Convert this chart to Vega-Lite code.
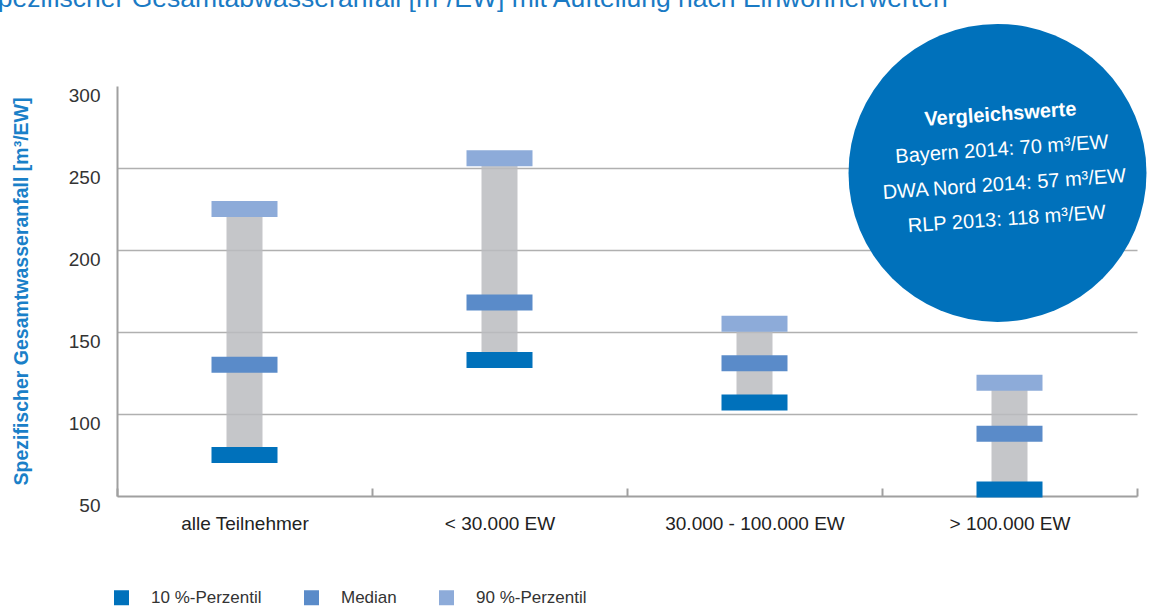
{
  "$schema": "https://vega.github.io/schema/vega-lite/v6.json",
  "width": 1020,
  "height": 410,
  "autosize": {"type": "none"},
  "padding": {"left": 117, "top": 86, "right": 12, "bottom": 111},
  "background": "white",
  "config": {"view": {"stroke": null}, "font": "Liberation Sans"},
  "title": {
    "text": "Spezifischer Gesamtabwasseranfall [m³/EW] mit Aufteilung nach Einwohnerwerten",
    "anchor": "start",
    "frame": "group",
    "font": "Liberation Sans",
    "fontSize": 26.5,
    "fontWeight": "normal",
    "color": "#1a7ac4",
    "baseline": "alphabetic",
    "offset": 0,
    "dy": 10,
    "dx": -137
  },
  "datasets": {
    "stats": [
      {"group": "alle Teilnehmer", "p10": 75, "median": 130, "p90": 225},
      {"group": "< 30.000 EW", "p10": 133, "median": 168, "p90": 256},
      {"group": "30.000 - 100.000 EW", "p10": 107, "median": 131, "p90": 155},
      {"group": "> 100.000 EW", "p10": 54, "median": 88, "p90": 119}
    ],
    "note": [
      {"group": "> 100.000 EW", "value": 247, "heading": "Vergleichswerte", "lines": ["Bayern 2014: 70 m³/EW", "DWA Nord 2014: 57 m³/EW", "RLP 2013: 118 m³/EW"]}
    ]
  },
  "layer": [
    {
      "data": {"name": "stats"},
      "mark": {"type": "bar", "width": 36, "color": "#bbbcbf", "opacity": 0.85},
      "encoding": {
        "x": {
          "field": "group", "type": "nominal",
          "scale": {"domain": ["alle Teilnehmer", "< 30.000 EW", "30.000 - 100.000 EW", "> 100.000 EW"], "paddingInner": 0, "paddingOuter": 0},
          "axis": {
            "title": null, "labelAngle": 0, "labelFontSize": 19, "labelColor": "#222",
            "labelPadding": 35, "labelBaseline": "middle",
            "ticks": true, "tickBand": "extent", "tickSize": -8, "tickColor": "#a0a0a0", "tickWidth": 2,
            "domainColor": "#a0a0a0", "domainWidth": 2, "grid": false
          }
        },
        "y": {
          "field": "p10", "type": "quantitative",
          "scale": {"domain": [50, 300], "nice": false, "zero": false},
          "axis": {
            "values": [50, 100, 150, 200, 250, 300],
            "title": "Spezifischer Gesamtwasseranfall [m³/EW]",
            "titleFont": "Liberation Sans", "titleFontSize": 19.5, "titleFontWeight": "bold", "titleColor": "#1a80c8",
            "titleAngle": -90, "titleX": -96, "titleY": 205, "titleAlign": "center", "titleBaseline": "middle",
            "labelFontSize": 19, "labelColor": "#333", "labelPadding": 17, "labelOffset": 9,
            "ticks": false, "domainColor": "#a0a0a0", "domainWidth": 2,
            "grid": true, "gridColor": "#b0b0b0", "gridWidth": 1.5,
            "gridOpacity": {"condition": {"test": "datum.value == 300 || datum.value == 50", "value": 0}, "value": 1}
          }
        },
        "y2": {"field": "p90"}
      }
    },
    {
      "data": {"name": "stats"},
      "transform": [{"fold": ["p10", "median", "p90"], "as": ["stat", "value"]}],
      "mark": {"type": "tick", "thickness": 16, "size": 66, "opacity": 1},
      "encoding": {
        "x": {"field": "group", "type": "nominal"},
        "y": {"field": "value", "type": "quantitative"},
        "color": {
          "field": "stat", "type": "nominal",
          "scale": {"domain": ["p10", "median", "p90"], "range": ["#0071bb", "#5a8bc9", "#8dabd9"]},
          "legend": {
            "orient": "none", "legendX": -4, "legendY": 503, "direction": "horizontal",
            "title": null, "symbolType": "square", "symbolSize": 225, "symbolStrokeWidth": 0, "symbolOpacity": 1,
            "labelFontSize": 17, "labelColor": "#333", "labelOffset": 21, "columnPadding": 41, "padding": 0,
            "labelExpr": "datum.value == 'p10' ? '10 %-Perzentil' : datum.value == 'median' ? 'Median' : '90 %-Perzentil'"
          }
        }
      }
    },
    {
      "data": {"name": "note"},
      "mark": {"type": "point", "shape": "circle", "filled": true, "size": 88804, "color": "#0071bb", "opacity": 1, "xOffset": -12},
      "encoding": {
        "x": {"field": "group", "type": "nominal"},
        "y": {"field": "value", "type": "quantitative"}
      }
    },
    {
      "data": {"name": "note"},
      "mark": {"type": "text", "font": "Liberation Sans", "fontSize": 20, "fontWeight": "bold", "color": "white", "angle": 356, "align": "center", "baseline": "middle", "dx": 7, "dy": -58, "xOffset": -12},
      "encoding": {
        "x": {"field": "group", "type": "nominal"},
        "y": {"field": "value", "type": "quantitative"},
        "text": {"field": "heading"}
      }
    },
    {
      "data": {"name": "note"},
      "mark": {"type": "text", "font": "Liberation Sans", "fontSize": 20, "color": "white", "angle": 356, "align": "center", "baseline": "middle", "lineHeight": 35, "dx": 6, "dy": -23, "xOffset": -12},
      "encoding": {
        "x": {"field": "group", "type": "nominal"},
        "y": {"field": "value", "type": "quantitative"},
        "text": {"field": "lines"}
      }
    }
  ]
}
